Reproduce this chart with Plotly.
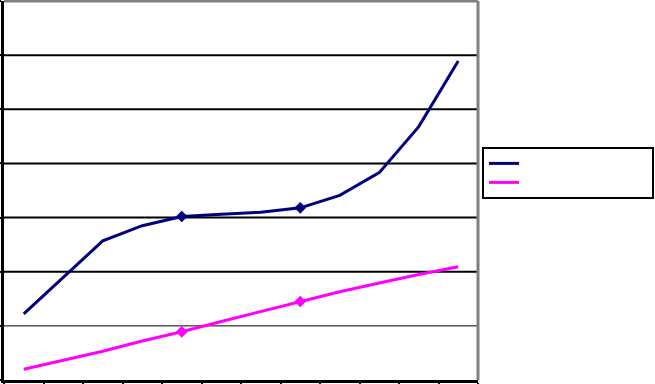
import plotly.graph_objects as go

categories = [str(i) for i in range(1, 13)]
series_a = [12.2, 19.0, 25.7, 28.5, 30.2, 30.6, 31.0, 31.8, 34.1, 38.3, 46.8, 58.9]
series_b = [2.0, 3.7, 5.3, 7.2, 8.9, 10.8, 12.6, 14.5, 16.3, 17.9, 19.5, 20.9]
marker_idx = [4, 7]
name_a = "\u00a0" * 55
name_b = "\u00a0" * 55
color_a = "#000080"
color_b = "#FF00FF"

fig = go.Figure()
fig.add_trace(go.Scatter(x=categories, y=series_a, mode="lines", name=name_a,
                         line=dict(color=color_a, width=3)))
fig.add_trace(go.Scatter(x=categories, y=series_b, mode="lines", name=name_b,
                         line=dict(color=color_b, width=3)))
for s, c in [(series_a, color_a), (series_b, color_b)]:
    fig.add_trace(go.Scatter(x=[categories[i] for i in marker_idx],
                             y=[s[i] for i in marker_idx], mode="markers",
                             marker=dict(symbol="diamond", size=9, color=c),
                             showlegend=False))

# gridlines
for v, w in [(10, 1), (20, 2), (30, 2), (40, 2), (50, 2), (60, 2)]:
    fig.add_shape(type="line", xref="paper", yref="y", x0=0, x1=1, y0=v, y1=v,
                  line=dict(color="black", width=w), layer="below")
# top and right gray borders
fig.add_shape(type="line", xref="paper", yref="paper", x0=0, x1=1, y0=1, y1=1,
              line=dict(color="#808080", width=3))
fig.add_shape(type="line", xref="paper", yref="paper", x0=1, x1=1, y0=0, y1=1,
              line=dict(color="#808080", width=3))

fig.update_layout(
    width=655, height=384,
    margin=dict(l=4, r=177, t=1, b=4, autoexpand=False),
    paper_bgcolor="white", plot_bgcolor="white",
    showlegend=True,
    legend=dict(x=1.0084, y=0.615, xanchor="left", yanchor="top",
                bgcolor="white", bordercolor="black", borderwidth=2,
                font=dict(size=8, family="Arial"),
                tracegroupgap=0, itemwidth=30),
    xaxis=dict(type="category", range=[-0.5, 11.5], showgrid=False, zeroline=False,
               showticklabels=False, tickson="boundaries", ticks="outside",
               ticklen=4, tickwidth=2, tickcolor="black",
               showline=True, linecolor="black", linewidth=3),
    yaxis=dict(range=[0, 70], dtick=10, showgrid=False, zeroline=False,
               showticklabels=False, ticks="outside", ticklen=4, tickwidth=2,
               tickcolor="black", showline=True, linecolor="black", linewidth=3),
)

fig.write_html("out.html")
